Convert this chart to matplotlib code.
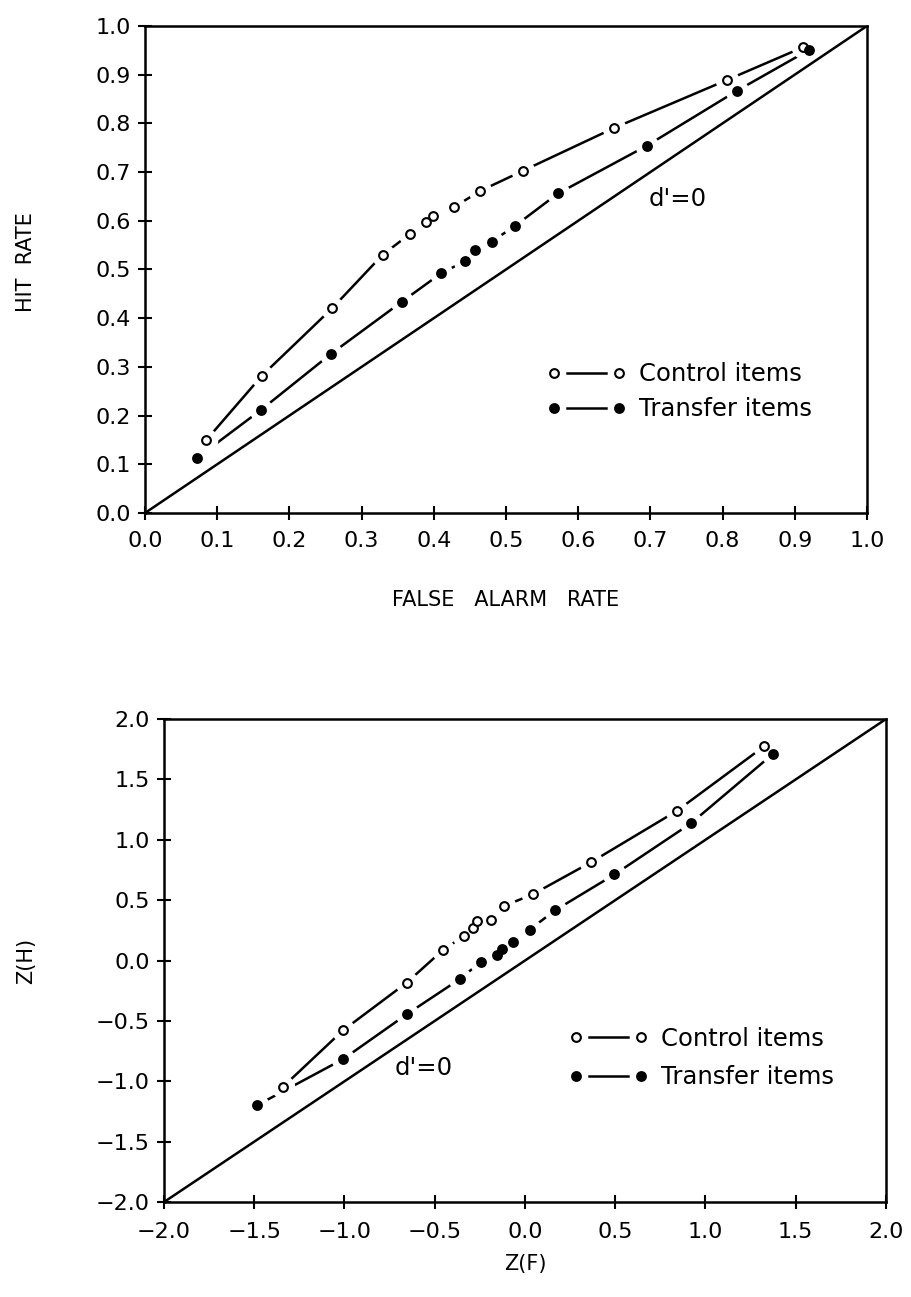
import matplotlib
matplotlib.use('Agg')
import matplotlib.pyplot as plt
from matplotlib.legend_handler import HandlerTuple
from matplotlib.ticker import FuncFormatter

plt.rcParams['font.family'] = ['DejaVu Sans']

# ---------------- data ----------------
series_labels = ['Control items', 'Transfer items']

# ROC space (top panel)
far_control = [0.085, 0.162, 0.259, 0.329, 0.367, 0.389, 0.399, 0.428, 0.464, 0.524, 0.649, 0.806, 0.911]
hit_control = [0.150, 0.282, 0.420, 0.530, 0.573, 0.598, 0.610, 0.628, 0.661, 0.703, 0.790, 0.889, 0.956]
far_transfer = [0.072, 0.161, 0.257, 0.356, 0.410, 0.443, 0.457, 0.480, 0.513, 0.572, 0.695, 0.820, 0.920]
hit_transfer = [0.113, 0.212, 0.326, 0.434, 0.492, 0.517, 0.540, 0.557, 0.590, 0.656, 0.754, 0.867, 0.951]

# z space (bottom panel)
zf_control = [-1.341, -1.008, -0.656, -0.456, -0.338, -0.290, -0.264, -0.188, -0.115, 0.045, 0.368, 0.841, 1.324]
zh_control = [-1.046, -0.578, -0.184, 0.085, 0.204, 0.266, 0.325, 0.334, 0.452, 0.550, 0.816, 1.239, 1.773]
zf_transfer = [-1.484, -1.007, -0.656, -0.362, -0.244, -0.157, -0.125, -0.068, 0.026, 0.167, 0.496, 0.921, 1.374]
zh_transfer = [-1.198, -0.816, -0.446, -0.154, -0.011, 0.050, 0.094, 0.155, 0.256, 0.416, 0.713, 1.138, 1.711]

roc_ticks = [0.0, 0.1, 0.2, 0.3, 0.4, 0.5, 0.6, 0.7, 0.8, 0.9, 1.0]
z_ticks = [-2.0, -1.5, -1.0, -0.5, 0.0, 0.5, 1.0, 1.5, 2.0]
roc_chance = [0.0, 1.0]
z_chance = [-2.0, 2.0]

# ---------------- styling ----------------
LW = 1.8
TICK_FS = 16
LABEL_FS = 15
TEXT_FS = 17.5
HALO_MS = 17
MS = 6.3

fig = plt.figure(figsize=(9.11, 12.97), dpi=100)
ax1 = fig.add_axes([0.1592, 0.6045, 0.7925, 0.3755])
ax2 = fig.add_axes([0.180, 0.0732, 0.7925, 0.3724])

fmt = FuncFormatter(lambda v, p: ('%.1f' % v).replace('-', '\u2212'))


def draw_panel(ax, xc, yc, xt, yt, chance, ticks, xlabel, ylabel,
               dtext_xy, leg_anchor, leg_spacing, xlabel_y, ylabel_xy,
               xpad):
    handles = []
    for x, y, filled in ((xc, yc, False), (xt, yt, True)):
        line, = ax.plot(x, y, color='black', lw=LW, zorder=2,
                        solid_capstyle='butt')
        halo, = ax.plot(x, y, ls='none', marker='o', ms=HALO_MS,
                        mfc='white', mec='none', zorder=3)
        mark, = ax.plot(x, y, ls='none', marker='o', ms=MS,
                        mfc='black' if filled else 'white', mec='black',
                        mew=1.5, zorder=4)
        handles.append((line, halo, mark))
    # chance diagonal d'=0
    ax.plot(chance, chance, color='black', lw=LW, zorder=5)
    ax.text(dtext_xy[0], dtext_xy[1], "d'=0", fontsize=TEXT_FS,
            ha='center', va='center')

    ax.set_xlim(ticks[0], ticks[-1])
    ax.set_ylim(ticks[0], ticks[-1])
    ax.set_xticks(ticks)
    ax.set_yticks(ticks)
    ax.xaxis.set_major_formatter(fmt)
    ax.yaxis.set_major_formatter(fmt)
    ax.tick_params(direction='inout', length=10, width=1.5,
                   labelsize=TICK_FS, pad=5)
    ax.tick_params(axis='x', pad=xpad)
    for sp in ax.spines.values():
        sp.set_linewidth(LW)
    ax.set_xlabel(xlabel, fontsize=LABEL_FS)
    ax.set_ylabel(ylabel, fontsize=LABEL_FS)
    ax.xaxis.set_label_coords(0.5, xlabel_y)
    ax.yaxis.set_label_coords(*ylabel_xy)

    ax.legend(handles=handles, labels=series_labels,
              handler_map={tuple: HandlerTuple(ndivide=1, pad=0)},
              numpoints=2, frameon=False, fontsize=TEXT_FS,
              handlelength=3.27, handletextpad=0.52,
              labelspacing=leg_spacing, borderpad=0, borderaxespad=0,
              loc='center left', bbox_to_anchor=leg_anchor,
              bbox_transform=ax.transData)


draw_panel(ax1, far_control, hit_control, far_transfer, hit_transfer,
           roc_chance, roc_ticks, 'FALSE   ALARM   RATE', 'HIT  RATE',
           (0.738, 0.645), (0.557, 0.2485), 0.45, -0.159, (-0.151, 0.515),
           8)

draw_panel(ax2, zf_control, zh_control, zf_transfer, zh_transfer,
           z_chance, z_ticks, 'Z(F)', 'Z(H)',
           (-0.561, -0.893), (0.244, -0.807), 0.6, -0.107, (-0.177, 0.5),
           9)

fig.savefig('out.png', dpi=100)
